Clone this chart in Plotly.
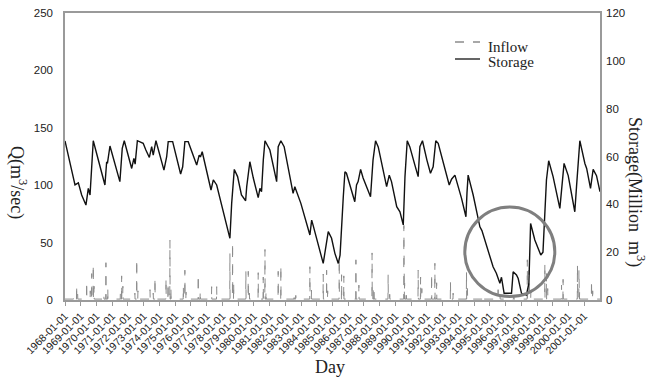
import datetime as dt
import plotly.graph_objects as go

# Reservoir storage (million m^3), key turning points of the daily record
storage_dates = [
    "1968-01-01", "1968-08-20", "1968-11-06", "1969-01-22", "1969-05-01", "1969-06-25",
    "1969-08-04", "1969-09-12", "1969-10-18", "1970-07-16", "1970-08-25", "1970-09-12",
    "1970-11-10", "1971-06-28", "1971-08-22", "1971-10-08", "1972-03-28", "1972-05-18",
    "1972-06-16", "1972-08-07", "1972-12-20", "1973-02-20", "1973-05-12", "1973-07-05",
    "1973-08-10", "1973-10-12", "1974-04-16", "1974-06-18", "1974-07-24", "1974-11-04",
    "1975-05-08", "1975-06-25", "1975-08-15", "1975-10-31", "1976-05-15", "1976-07-12",
    "1976-08-10", "1976-09-20", "1977-04-12", "1977-06-05", "1977-08-22", "1978-06-25",
    "1978-08-05", "1978-10-05", "1978-12-20", "1979-03-20", "1979-06-25", "1979-07-20",
    "1979-10-01", "1979-12-20", "1980-04-12", "1980-05-22", "1980-06-28", "1980-08-08",
    "1980-09-16", "1981-01-08", "1981-06-14", "1981-07-20", "1981-09-20", "1981-12-05",
    "1982-07-01", "1982-08-10", "1982-12-28", "1983-07-26", "1983-09-05", "1983-10-12",
    "1984-05-30", "1984-09-24", "1984-12-10", "1985-02-25", "1985-05-15", "1985-06-25",
    "1985-08-01", "1985-09-08", "1985-10-16", "1985-11-20", "1986-06-02", "1986-07-12",
    "1986-08-18", "1986-10-15", "1986-12-12", "1987-03-01", "1987-06-02", "1987-07-30",
    "1987-09-27", "1987-11-28", "1988-06-10", "1988-08-10", "1988-10-01", "1989-01-30",
    "1989-04-15", "1989-07-01", "1989-08-10", "1989-10-01", "1989-12-01", "1990-03-28",
    "1990-06-12", "1990-07-22", "1990-09-20", "1991-01-01", "1991-03-25", "1991-05-26",
    "1991-07-26", "1991-09-20", "1992-04-01", "1992-06-02", "1992-07-26", "1992-10-12",
    "1993-03-15", "1993-06-25", "1993-07-20", "1993-08-15", "1993-12-10", "1994-05-15",
    "1994-07-01", "1994-09-10", "1995-03-17", "1995-06-01", "1995-08-22", "1995-09-28",
    "1995-11-28", "1996-05-18", "1996-06-25", "1996-09-10", "1996-10-20", "1997-01-05",
    "1997-05-01", "1997-06-25", "1997-08-04", "1997-11-10", "1997-12-20", "1998-03-28",
    "1998-05-18", "1998-06-28", "1998-08-07", "1998-09-28", "1999-01-08", "1999-06-14",
    "1999-09-20", "1999-12-25", "2000-05-26", "2000-07-05", "2000-09-20", "2001-01-15",
    "2001-02-25", "2001-05-26", "2001-07-26", "2001-10-12", "2001-12-31",
]
storage_values = [
    66.5, 48.1, 49.0, 43.9, 39.7, 46.7,
    43.9, 55.7, 66.6, 48.1, 57.8, 57.1,
    64.4, 49.5, 63.4, 66.6, 55.0, 59.2,
    56.8, 66.6, 65.5, 62.7, 59.6, 64.1,
    60.6, 66.6, 54.3, 59.9, 66.2, 66.2,
    52.7, 55.7, 66.2, 66.2, 56.4, 60.6,
    59.8, 62.0, 46.0, 50.2, 48.1, 25.8,
    40.4, 54.6, 51.6, 43.9, 41.5, 47.4,
    57.8, 51.0, 42.8, 46.7, 45.3, 58.5,
    66.6, 62.7, 49.5, 64.1, 66.6, 64.1,
    44.6, 47.4, 40.4, 27.2, 33.4, 31.0,
    15.3, 28.6, 25.8, 19.5, 15.3, 18.8,
    33.4, 43.2, 53.6, 53.0, 41.1, 48.1,
    49.5, 54.6, 51.0, 47.4, 43.2, 58.5,
    66.6, 64.0, 47.4, 52.2, 49.5, 39.0,
    36.9, 31.4, 51.6, 66.6, 64.0, 56.4,
    51.6, 64.1, 66.6, 58.5, 53.0, 55.7,
    66.6, 65.5, 51.6, 48.1, 50.5, 52.2,
    42.5, 34.8, 45.0, 52.2, 43.9, 30.6,
    29.0, 25.1, 13.9, 11.2, 7.0, 9.5,
    2.8, 2.8, 11.8, 10.5, 9.0, 2.8,
    2.1, 7.0, 32.0, 25.1, 23.5, 18.8,
    20.0, 37.6, 50.2, 58.2, 51.6, 38.3,
    57.1, 52.0, 36.9, 47.4, 66.6, 57.1,
    55.0, 46.7, 54.6, 52.0, 45.3,
]

# Flood inflow events (m^3/sec) on top of a small base flow
inflow_peak_dates = [
    "1968-07-20", "1968-09-27", "1968-10-20",
    "1969-05-18", "1969-08-10", "1969-09-12", "1969-10-18", "1969-11-05",
    "1970-06-20", "1970-08-08", "1970-09-20",
    "1971-07-10", "1971-08-08", "1971-09-05",
    "1972-06-10", "1972-07-23", "1972-08-20",
    "1973-05-27", "1973-08-10", "1973-09-20",
    "1974-06-03", "1974-07-20", "1974-09-02", "1974-09-25",
    "1975-07-10", "1975-08-15", "1975-09-10",
    "1976-06-20", "1976-08-05",
    "1977-04-27", "1977-08-22",
    "1978-06-25", "1978-08-26", "1978-09-20",
    "1979-07-01", "1979-08-25", "1979-09-20",
    "1980-04-12", "1980-08-07", "1980-09-16", "1980-10-10",
    "1981-07-20", "1981-09-20",
    "1982-07-25", "1982-09-01",
    "1983-07-26", "1983-09-01",
    "1984-05-30", "1984-08-17", "1984-09-10",
    "1985-06-06", "1985-07-30", "1985-09-20",
    "1986-06-28", "1986-09-05",
    "1987-07-08", "1987-08-01", "1987-08-25",
    "1988-07-15", "1988-08-20",
    "1989-07-15", "1989-08-01", "1989-09-10",
    "1990-06-12", "1990-08-07", "1990-09-05",
    "1991-04-20", "1991-07-05", "1991-08-15",
    "1992-07-01", "1992-09-01",
    "1993-07-08", "1993-07-30",
    "1994-07-20",
    "1995-07-12", "1995-08-25",
    "1996-07-10",
    "1997-05-20", "1997-07-01", "1997-08-10",
    "1998-07-01", "1998-08-07", "1998-09-05",
    "1999-07-23", "1999-08-28",
    "2000-07-27", "2000-08-30", "2000-09-15",
    "2001-06-18", "2001-07-15",
]
inflow_peak_values = [
    4, 13, 6,
    16, 8, 23, 31, 12,
    5, 32.5, 10,
    7, 21, 12,
    6, 35.5, 8,
    9, 6, 19.5,
    19, 15, 52, 10,
    12, 26, 7,
    22, 8,
    11.6, 11.6,
    40.6, 50, 15,
    25, 25, 6,
    23.8, 20, 44, 8,
    25, 30,
    6, 4,
    29, 9,
    22.6, 26, 8,
    36, 22, 21,
    35, 13,
    41, 12, 8,
    22, 5,
    65, 15, 8,
    26, 20, 10,
    23, 32, 15,
    16, 6,
    24.6, 10,
    4,
    9, 4,
    4,
    35, 26, 8,
    32, 23, 10,
    13, 18,
    30.5, 26, 8,
    17.4, 8,
]
base_flow = 0.8
event_half_width_days = 4

year_ticks = list(range(1968, 2002))
tick_labels = [f"{y}-01-01" for y in year_ticks]

legend_names = ["Inflow", "Storage"]

# Expand each flood event into a rise-peak-recession around the base flow
inflow_x = [dt.date(1968, 1, 1)]
inflow_y = [base_flow]
for d, q in zip(inflow_peak_dates, inflow_peak_values):
    day = dt.date.fromisoformat(d)
    half = dt.timedelta(days=event_half_width_days)
    inflow_x += [day - half, day, day + half]
    inflow_y += [base_flow, q, base_flow]
inflow_x.append(dt.date(2001, 12, 31))
inflow_y.append(base_flow)

SERIF = "Liberation Serif, Times New Roman, serif"
SANS = "Liberation Sans, Arial, sans-serif"
AXIS_GRAY = "#9a9a9a"
TEXT = "#222222"
INFLOW_STYLE = dict(color="#8c8c8c", width=1, dash="dash")
STORAGE_STYLE = dict(color="#111111", width=1.4)

fig = go.Figure()
fig.add_trace(go.Scatter(
    x=inflow_x, y=inflow_y, name=legend_names[0], mode="lines",
    line=INFLOW_STYLE, yaxis="y", showlegend=False,
))
fig.add_trace(go.Scatter(
    x=storage_dates, y=storage_values, name=legend_names[1], mode="lines",
    line=STORAGE_STYLE, yaxis="y2", showlegend=False,
))

# Highlight of the 1994-1998 drought period
fig.add_shape(
    type="circle", xref="x", yref="y",
    x0="1993-05-30", x1="1999-02-17", y0=3, y1=81,
    line=dict(color="#7f7f7f", width=3),
)

# Compact key in the upper right of the plot area
PLOT_L, PLOT_W, PLOT_B, PLOT_H = 65, 535, 300, 287


def px_x(px):
    return (px - PLOT_L) / PLOT_W


def px_y(py):
    return (PLOT_B - py) / PLOT_H


key_rows = [(legend_names[0], INFLOW_STYLE, 42, 47), (legend_names[1], STORAGE_STYLE, 59, 62)]
annotations = []
for name, style, line_y, text_y in key_rows:
    fig.add_shape(type="line", xref="paper", yref="paper",
                  x0=px_x(455), x1=px_x(480), y0=px_y(line_y), y1=px_y(line_y),
                  line=dict(color=style["color"], width=1.3, dash=style.get("dash", "solid")))
    annotations.append(dict(text=name, xref="paper", yref="paper",
                            x=px_x(486), y=px_y(text_y), xanchor="left", yanchor="middle",
                            showarrow=False, font=dict(family=SERIF, size=15, color=TEXT)))

annotations += [
    dict(text="Q(m<sup>3</sup>/sec)", textangle=90, xref="paper", yref="paper",
         x=px_x(18), y=px_y(182), xanchor="center", yanchor="middle", showarrow=False,
         font=dict(family=SERIF, size=18, color=TEXT)),
    dict(text="Storage(Million  m<sup>3</sup>)", textangle=90, xref="paper", yref="paper",
         x=px_x(636), y=px_y(192), xanchor="center", yanchor="middle", showarrow=False,
         font=dict(family=SERIF, size=18, color=TEXT)),
    dict(text="Day", xref="paper", yref="paper", x=px_x(330), y=px_y(367),
         xanchor="center", yanchor="middle", showarrow=False,
         font=dict(family=SERIF, size=18, color=TEXT)),
]

fig.update_layout(
    width=658, height=378,
    margin=dict(l=65, r=58, t=13, b=78, autoexpand=False),
    paper_bgcolor="white", plot_bgcolor="white",
    showlegend=False,
    xaxis=dict(
        type="date",
        range=["1968-01-01", "2002-01-01"],
        tickvals=[f"{y}-01-01" for y in year_ticks],
        ticktext=tick_labels,
        tickangle=-45,
        tickfont=dict(family=SANS, size=10.5, color=TEXT),
        ticks="outside", ticklen=4, tickcolor=AXIS_GRAY,
        showline=True, linecolor=AXIS_GRAY, linewidth=1.5, mirror=True,
        showgrid=False, zeroline=False, automargin=False,
    ),
    yaxis=dict(
        range=[0, 250], dtick=50,
        tickfont=dict(family=SANS, size=11.5, color=TEXT),
        ticks="", ticklabelstandoff=8,
        showline=True, linecolor=AXIS_GRAY, linewidth=1.5, mirror=True,
        showgrid=False, zeroline=False, automargin=False,
    ),
    yaxis2=dict(
        overlaying="y", side="right",
        range=[0, 120], dtick=20,
        tickfont=dict(family=SANS, size=11.5, color=TEXT),
        ticks="", ticklabelstandoff=2,
        showline=True, linecolor=AXIS_GRAY, linewidth=1.5,
        showgrid=False, zeroline=False, automargin=False,
    ),
    annotations=annotations,
)

fig.write_html("out.html")
